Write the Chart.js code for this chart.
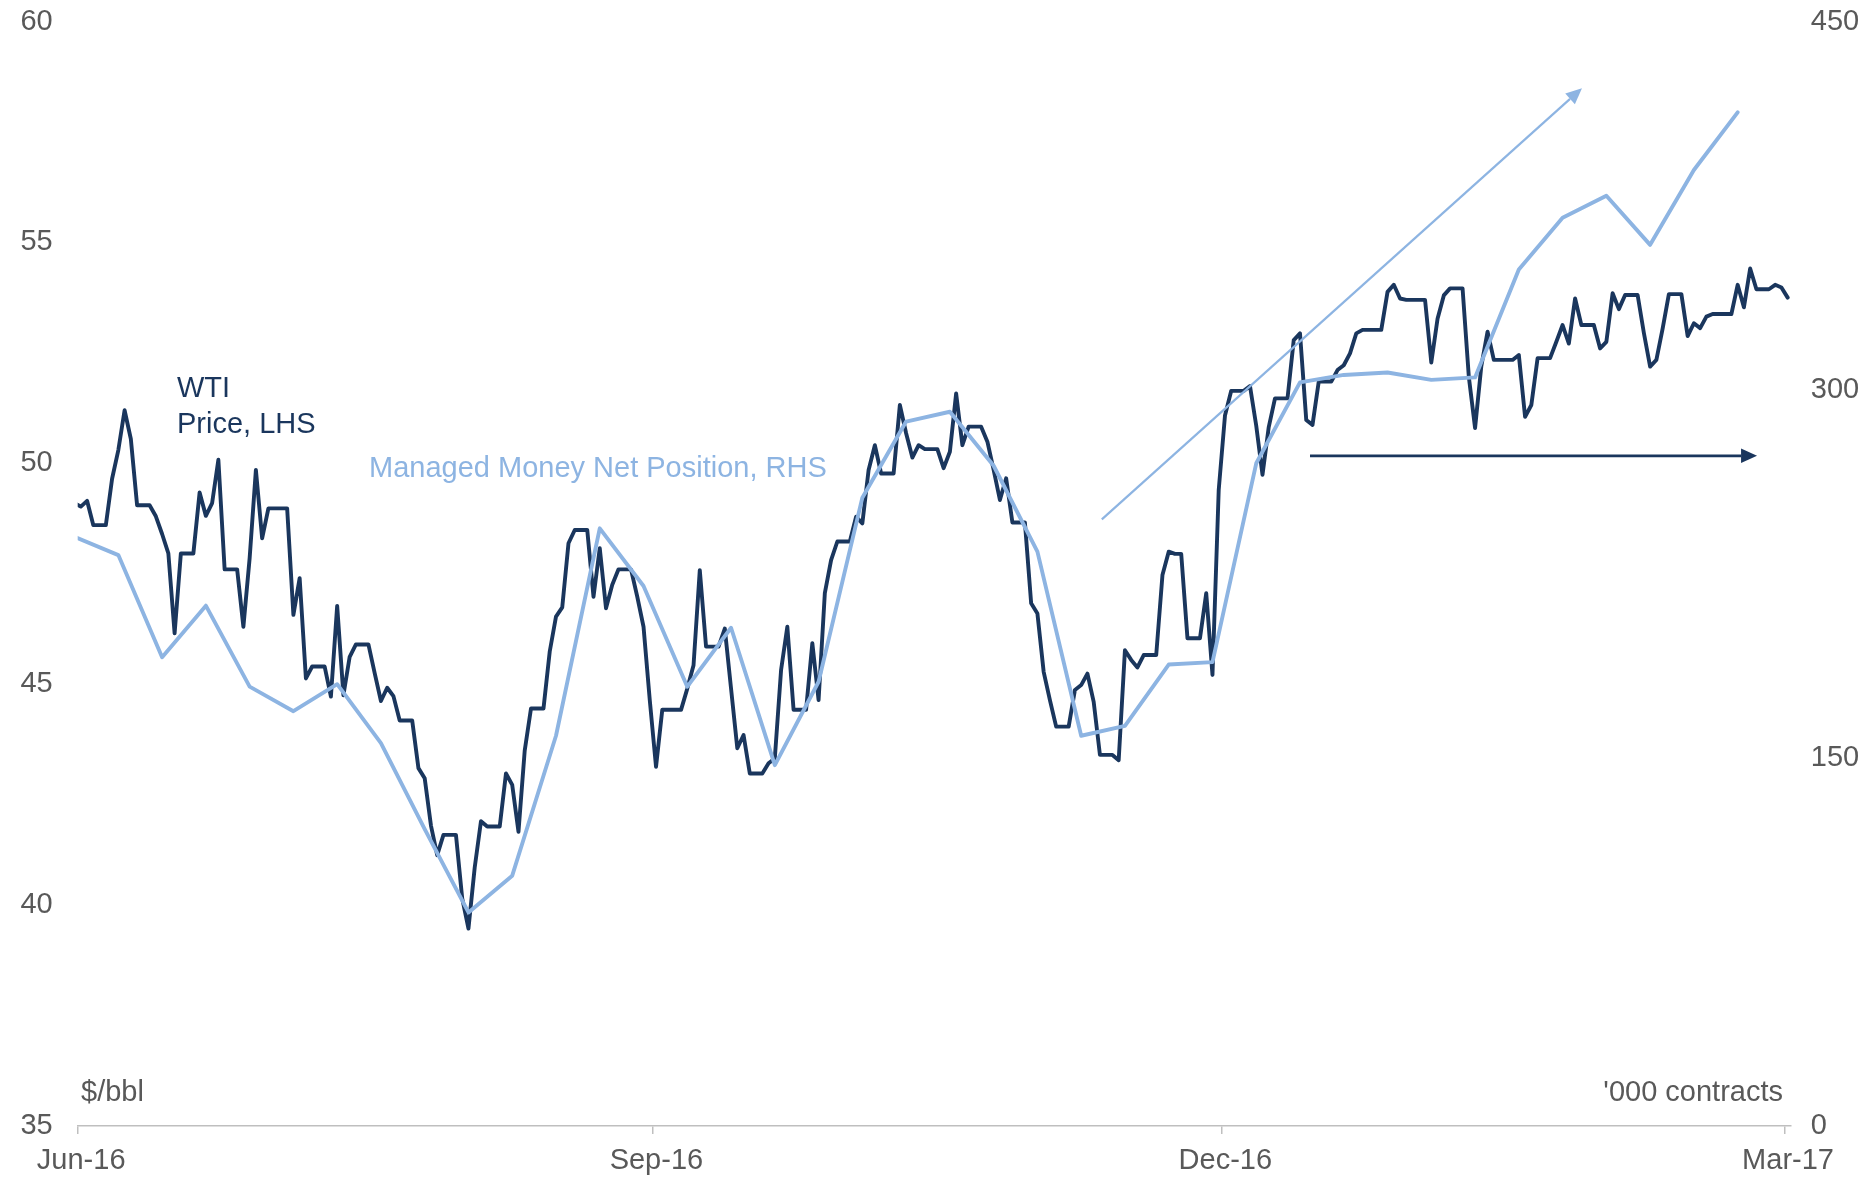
<!DOCTYPE html>
<html>
<head>
<meta charset="utf-8">
<style>
  html, body { margin: 0; padding: 0; background: #fff; }
</style>
<script src="https://cdn.jsdelivr.net/npm/chart.js@4.4.1/dist/chart.umd.min.js"></script>
</head>
<body>
<canvas id="chart" width="1874" height="1181"></canvas>
<script>
// WTI front-month price, $/bbl, one value per calendar day from 31 May 2016
// (weekends and holidays carry the previous close, as in the source sheet)
const wtiStart = '2016-05-31';
const wtiDaily = [
  49.10, 49.02, 49.15, 48.60, 48.60, 48.60,
  49.65, 50.30, 51.20, 50.55, 49.05, 49.05, 49.05,
  48.80, 48.40, 47.96, 46.15, 47.96, 47.96, 47.96,
  49.34, 48.81, 49.10, 50.08, 47.60, 47.60, 47.60,
  46.30, 47.85, 49.85, 48.30, 48.98, 48.98, 48.98,
  48.98, 46.57, 47.40, 45.13, 45.40, 45.40, 45.40,
  44.72, 46.77, 44.75, 45.62, 45.90, 45.90, 45.90,
  45.25, 44.62, 44.92, 44.73, 44.18, 44.18, 44.18,
  43.10, 42.87, 41.80, 41.13, 41.59, 41.59, 41.59,
  40.15, 39.47, 40.85, 41.90, 41.78, 41.78, 41.78,
  42.98, 42.72, 41.66, 43.50, 44.45, 44.45, 44.45,
  45.74, 46.53, 46.74, 48.19, 48.49, 48.49, 48.49,
  46.98, 48.08, 46.72, 47.25, 47.60, 47.60, 47.60,
  46.98, 46.30, 44.64, 43.13, 44.42, 44.42, 44.42,
  44.42, 44.90, 45.43, 47.58, 45.85, 45.85, 45.85,
  46.26, 44.90, 43.55, 43.85, 42.98, 42.98, 42.98,
  43.21, 43.32, 45.32, 46.30, 44.42, 44.42, 44.42,
  45.93, 44.64, 47.06, 47.81, 48.23, 48.23, 48.23,
  48.79, 48.64, 49.85, 50.41, 49.77, 49.77, 49.77,
  51.32, 50.68, 50.13, 50.41, 50.32, 50.32, 50.32,
  49.89, 50.26, 51.58, 50.41, 50.83, 50.83, 50.83,
  50.49, 49.85, 49.17, 49.66, 48.66, 48.66, 48.66,
  46.83, 46.60, 45.28, 44.64, 44.04, 44.04, 44.04,
  44.87, 44.98, 45.24, 44.60, 43.40, 43.40, 43.40,
  43.28, 45.77, 45.55, 45.38, 45.66, 45.66, 45.66,
  47.47, 48.00, 47.95, 47.95, 46.04, 46.04, 46.04,
  47.06, 45.21, 49.40, 51.08, 51.64, 51.64, 51.64,
  51.75, 50.85, 49.74, 50.82, 51.47, 51.47, 51.47,
  52.79, 52.94, 50.98, 50.87, 51.85, 51.85, 51.85,
  52.11, 52.22, 52.49, 52.94, 53.02, 53.02, 53.02,
  53.02, 53.88, 54.04, 53.73, 53.70, 53.70, 53.70,
  53.70, 52.28, 53.27, 53.80, 53.96, 53.96, 53.96,
  51.96, 50.80, 52.20, 52.98, 52.34, 52.34, 52.34,
  52.34, 52.45, 51.05, 51.32, 52.38, 52.38, 52.38,
  52.75, 53.13, 52.71, 53.73, 53.13, 53.13, 53.13,
  52.60, 52.75, 53.85, 53.49, 53.81, 53.81, 53.81,
  52.95, 52.19, 52.34, 53.05, 53.83, 53.83, 53.83,
  52.88, 53.17, 53.06, 53.32, 53.38, 53.38, 53.38,
  53.38, 54.04, 53.53, 54.41, 53.94, 53.94, 53.94,
  54.04, 53.98, 53.75
];

// Managed money net position, '000 contracts, weekly (Tuesdays)
const mmDates = [
  '2016-05-31', '2016-06-07', '2016-06-14', '2016-06-21', '2016-06-28',
  '2016-07-05', '2016-07-12', '2016-07-19', '2016-07-26', '2016-08-02',
  '2016-08-09', '2016-08-16', '2016-08-23', '2016-08-30', '2016-09-06',
  '2016-09-13', '2016-09-20', '2016-09-27', '2016-10-04', '2016-10-11',
  '2016-10-18', '2016-10-25', '2016-11-01', '2016-11-08', '2016-11-15',
  '2016-11-22', '2016-11-29', '2016-12-06', '2016-12-13', '2016-12-20',
  '2016-12-27', '2017-01-03', '2017-01-10', '2017-01-17', '2017-01-24',
  '2017-01-31', '2017-02-07', '2017-02-14', '2017-02-21'
];
const mmValues = [
  240, 232.6, 191, 212, 179,
  169, 180, 156, 121, 87,
  102, 159, 243.5, 220, 179,
  203, 147, 181, 256, 287,
  291, 269, 234, 159, 163,
  188, 189, 270, 303, 306,
  307, 304, 305, 349, 370,
  379, 359, 389.5, 413
];

const xTickDates = ['2016-06-01', '2016-09-01', '2016-12-01', '2017-03-01'];
const xTickLabels = ['Jun-16', 'Sep-16', 'Dec-16', 'Mar-17'];

// hand-drawn arrows, in (day, $/bbl) units
const trendArrow = [163.8, 48.73, 240.6, 58.49];
const flatArrow = [197.1, 50.17, 268.6, 50.17];

const NAVY = '#1a365d';
const LIGHT = '#8db4e2';
const GREY = '#595959';
const FONT = "'Liberation Sans', Arial, sans-serif";

const origin = Date.UTC(2016, 5, 1);
function dayNum(s) {
  const [y, m, d] = s.split('-').map(Number);
  return (Date.UTC(y, m - 1, d) - origin) / 86400000;
}

const firstDay = dayNum(wtiStart);
const wtiPoints = wtiDaily.map((v, i) => ({ x: firstDay + i + 0.5, y: v }));
const mmPoints = mmDates.map((d, i) => ({ x: dayNum(d) + 0.5, y: mmValues[i] }));

function arrow(ctx, x0, y0, x1, y1, color, width, head) {
  const a = Math.atan2(y1 - y0, x1 - x0);
  const bx = x1 - head * Math.cos(a);
  const by = y1 - head * Math.sin(a);
  const w = head * 0.45;
  ctx.strokeStyle = color;
  ctx.fillStyle = color;
  ctx.lineWidth = width;
  ctx.beginPath();
  ctx.moveTo(x0, y0);
  ctx.lineTo(bx, by);
  ctx.stroke();
  ctx.beginPath();
  ctx.moveTo(x1, y1);
  ctx.lineTo(bx + w * Math.sin(a), by - w * Math.cos(a));
  ctx.lineTo(bx - w * Math.sin(a), by + w * Math.cos(a));
  ctx.closePath();
  ctx.fill();
}

const notes = {
  id: 'notes',
  afterDatasetsDraw(chart) {
    const { ctx, scales } = chart;
    const x = scales.x, y = scales.y;
    ctx.save();
    arrow(ctx, x.getPixelForValue(trendArrow[0]), y.getPixelForValue(trendArrow[1]),
      x.getPixelForValue(trendArrow[2]), y.getPixelForValue(trendArrow[3]), LIGHT, 2.2, 16);
    arrow(ctx, x.getPixelForValue(flatArrow[0]), y.getPixelForValue(flatArrow[1]),
      x.getPixelForValue(flatArrow[2]), y.getPixelForValue(flatArrow[3]), NAVY, 2.8, 16);

    ctx.font = '29px ' + FONT;
    ctx.textBaseline = 'alphabetic';
    ctx.textAlign = 'left';
    ctx.fillStyle = NAVY;
    ctx.fillText('WTI', 177, 397);
    ctx.fillText('Price, LHS', 177, 433);
    ctx.fillStyle = LIGHT;
    ctx.fillText('Managed Money Net Position, RHS', 369, 477);
    ctx.fillStyle = GREY;
    ctx.fillText('$/bbl', 81, 1101);
    ctx.textAlign = 'right';
    ctx.fillText("'000 contracts", 1783, 1101);
    ctx.restore();
  }
};

// y axes: fixed width, and no extra room reserved above the top label
function fixY(width) {
  return s => {
    s.width = width;
    s.paddingTop = 0;
    s.paddingBottom = 0;
  };
}

Chart.defaults.font.family = FONT;
Chart.defaults.font.size = 29;

new Chart(document.getElementById('chart'), {
  type: 'line',
  data: {
    datasets: [
      {
        label: 'Managed Money Net Position, RHS',
        data: mmPoints,
        yAxisID: 'y2',
        borderColor: LIGHT,
        borderWidth: 3.9,
        pointRadius: 0,
        tension: 0,
        borderJoinStyle: 'round',
        borderCapStyle: 'round'
      },
      {
        label: 'WTI Price, LHS',
        data: wtiPoints,
        yAxisID: 'y',
        borderColor: NAVY,
        borderWidth: 3.9,
        pointRadius: 0,
        tension: 0,
        borderJoinStyle: 'round',
        borderCapStyle: 'round'
      }
    ]
  },
  options: {
    responsive: false,
    animation: false,
    layout: { padding: { top: 21.5, right: 0, bottom: 0, left: 0 } },
    plugins: { legend: { display: false }, tooltip: { enabled: false } },
    scales: {
      x: {
        type: 'linear',
        min: 0,
        max: 274,
        grid: { display: true, drawOnChartArea: false, drawTicks: true, tickLength: 8, color: '#bfbfbf', lineWidth: 1.5 },
        border: { display: true, color: '#bfbfbf', width: 1.5 },
        ticks: {
          color: GREY,
          padding: 10,
          labelOffset: 3.5,
          maxRotation: 0,
          autoSkip: false,
          callback: (v, i) => xTickLabels[i]
        },
        afterBuildTicks: s => { s.ticks = xTickDates.map(d => ({ value: dayNum(d) })); },
        afterFit: s => { s.height = 55; }
      },
      y: {
        position: 'left',
        min: 35,
        max: 60,
        grid: { display: false, drawTicks: false },
        border: { display: false },
        ticks: { stepSize: 5, color: GREY, padding: 25 },
        afterFit: fixY(77.7)
      },
      y2: {
        position: 'right',
        min: 0,
        max: 450,
        grid: { display: false, drawTicks: false },
        border: { display: false },
        ticks: { stepSize: 150, color: GREY, padding: 20 },
        afterFit: fixY(83.2)
      }
    }
  },
  plugins: [notes]
});
</script>
</body>
</html>
